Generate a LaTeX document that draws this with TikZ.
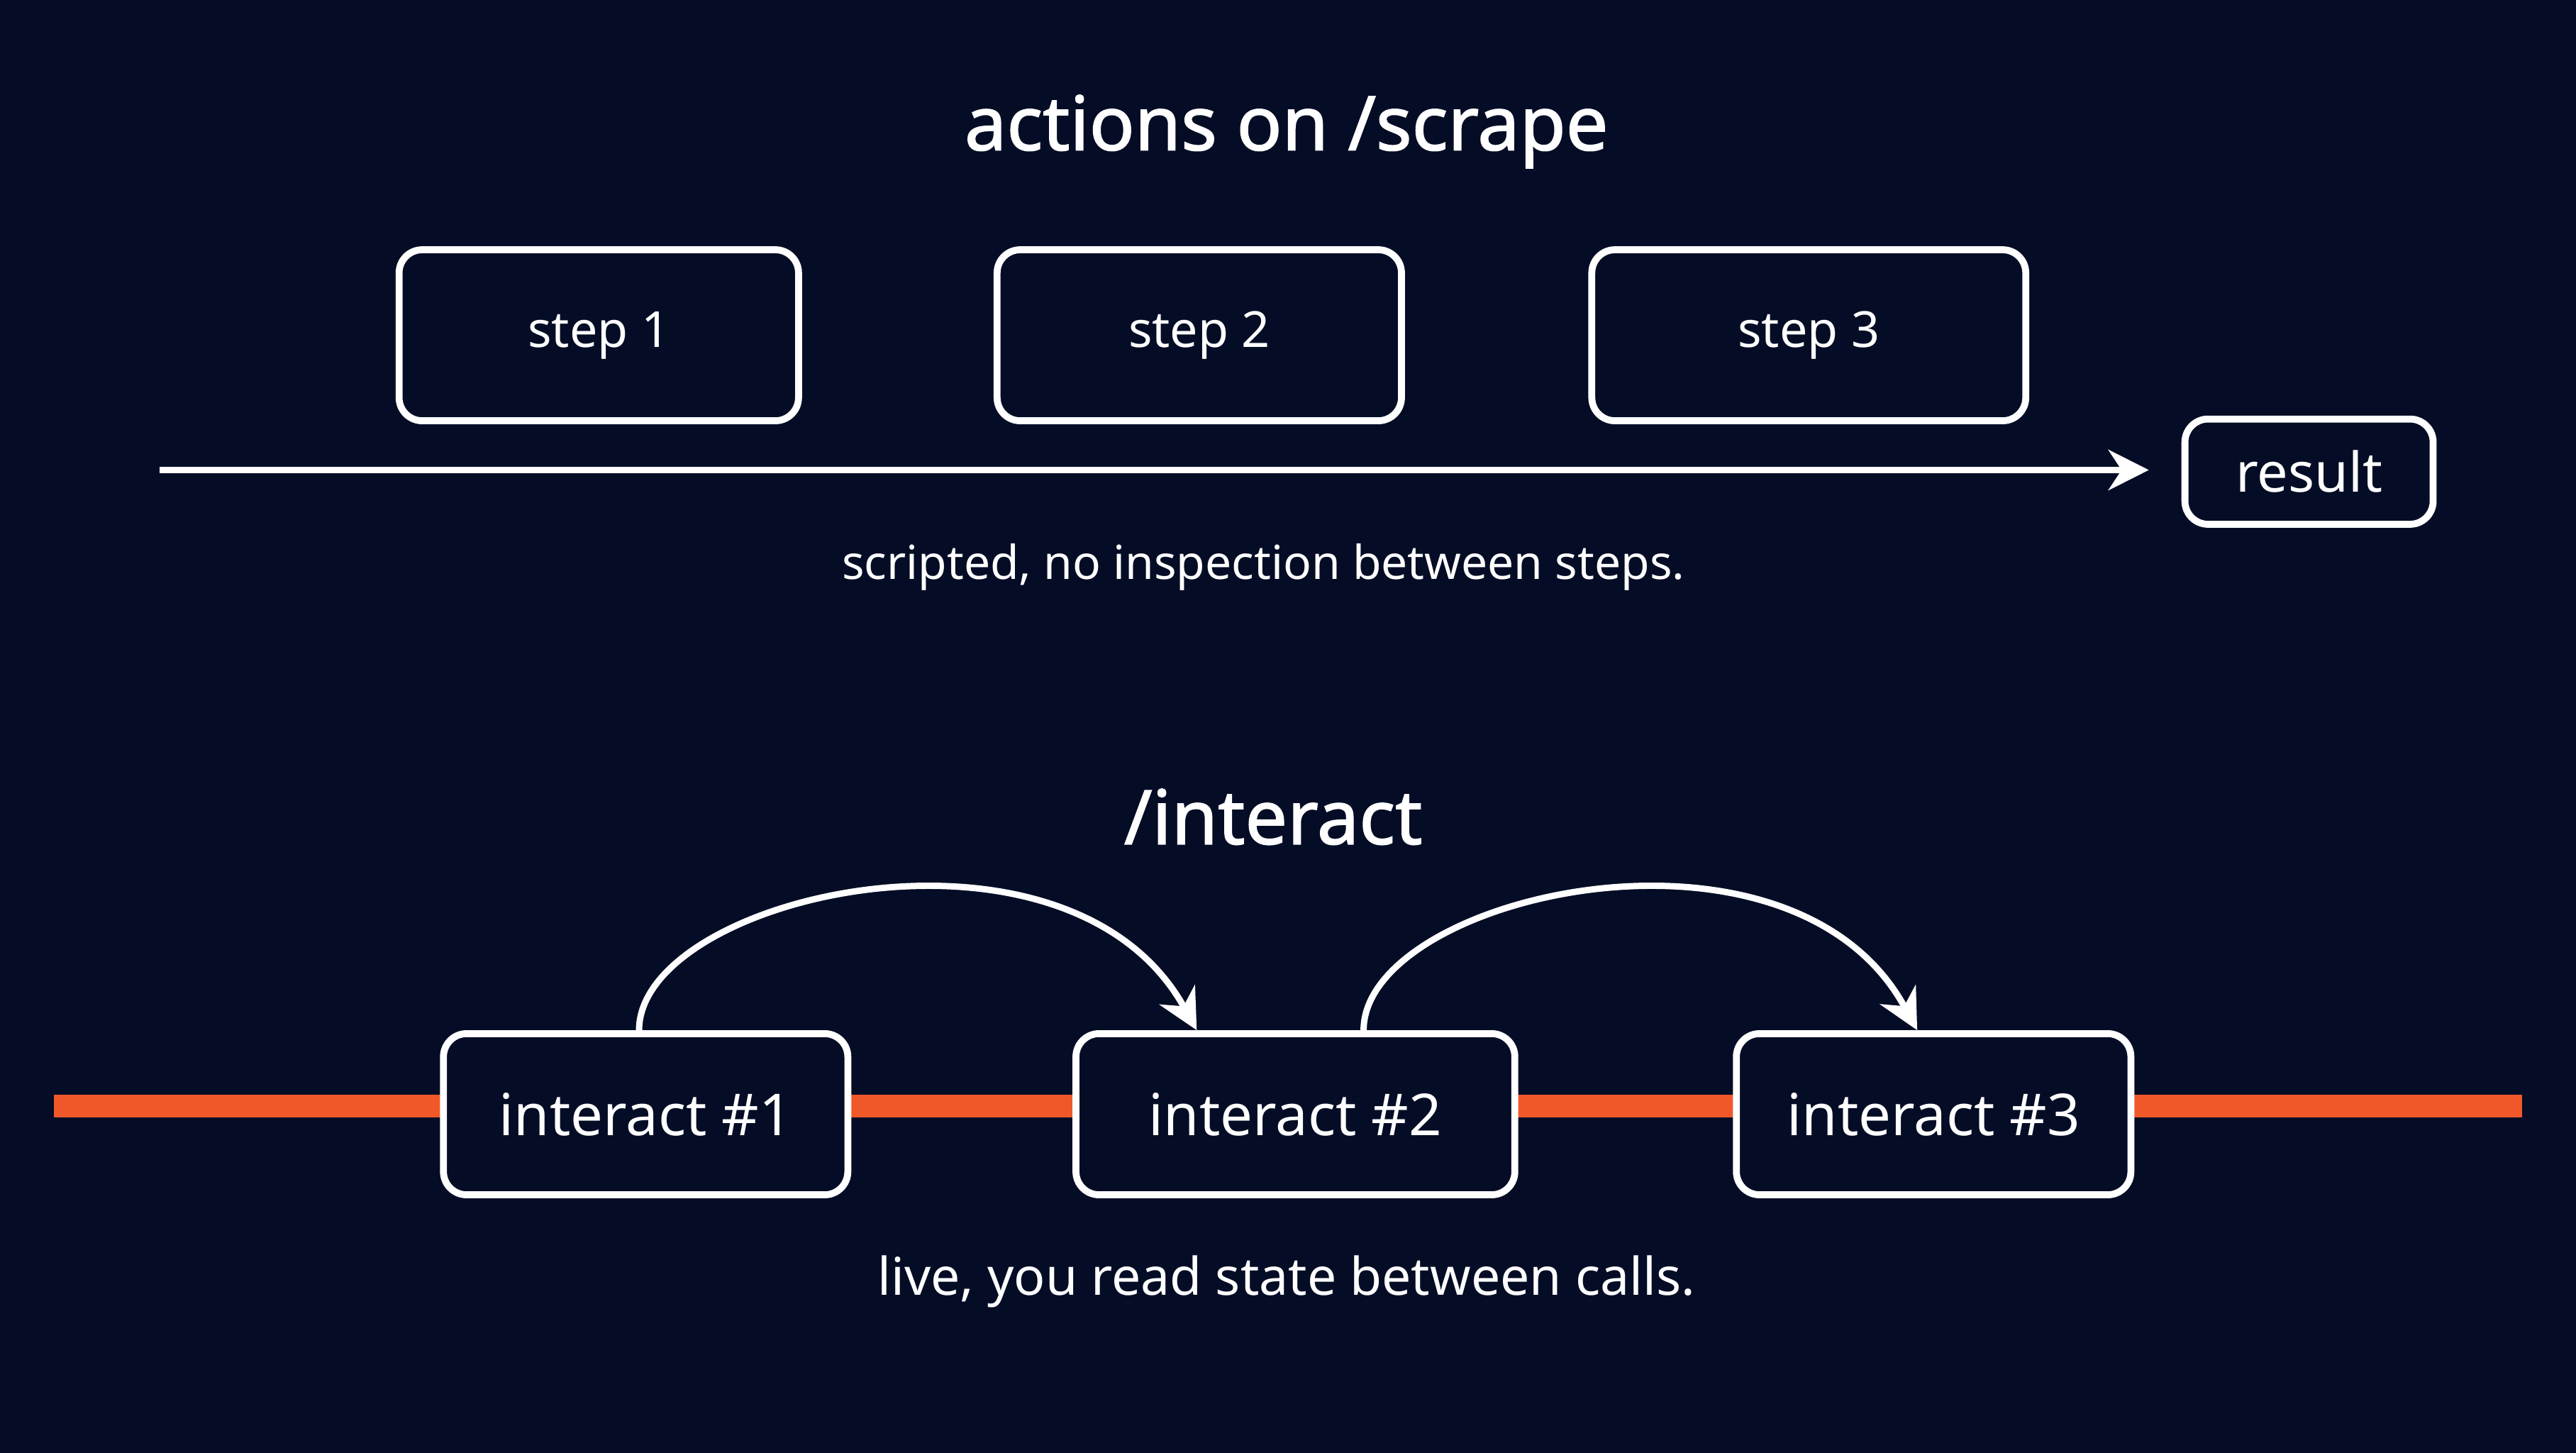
\documentclass[tikz,border=0pt]{standalone}
\usepackage{fontspec}
\setmainfont{Noto Sans}
\newfontfamily\bfam{Noto Sans}[FakeBold=1.5]
\usetikzlibrary{arrows.meta}
\definecolor{bg}{HTML}{050D26}
\definecolor{org}{HTML}{F0582A}
\begin{document}
\begin{tikzpicture}[x=0.01cm,y=-0.01cm,
  box/.style={draw=white,line width=1.2pt,rounded corners=4pt,fill=bg,text=white,font=\fontsize{8.6}{11}\selectfont},
  ttl/.style={text=white,font=\fontsize{13}{16}\bfam},
  captxt/.style={text=white,font=\fontsize{8.1}{10}\selectfont},
  arr/.style={draw=white,line width=1.1pt,-{Stealth[length=7pt,width=7pt]}}]
\fill[bg] (0,0) rectangle (1568,884);
\node[ttl] (t1) at (783,80) {actions on /scrape};
\node[box,minimum width=2.43cm,minimum height=1.04cm] (s1) at (364.5,204) {\raisebox{-0.05cm}{step 1}};
\node[box,minimum width=2.46cm,minimum height=1.04cm] (s2) at (730,204) {\raisebox{-0.05cm}{step 2}};
\node[box,minimum width=2.64cm,minimum height=1.04cm] (s3) at (1101,204) {\raisebox{-0.05cm}{step 3}};
\node[box,minimum width=1.51cm,minimum height=0.64cm,font=\fontsize{9.5}{12}\selectfont] (r) at (1405.5,287) {result};
\coordinate (a0) at (97,286);
\draw[arr] (a0) -- (1308,286) coordinate (a1);
\node[captxt] (c1) at (769,345) {scripted, no inspection between steps.};
\node[ttl] (t2) at (775,497) {/interact};
\coordinate (o0) at (33,673); \coordinate (o1) at (1535,673);
\draw[org,line width=0.14cm] (o0) -- (o1);
\node[box,minimum width=2.46cm,minimum height=0.98cm,font=\fontsize{10}{12}\selectfont] (i1) at (393,678) {interact \#1};
\node[box,minimum width=2.67cm,minimum height=0.98cm,font=\fontsize{10}{12}\selectfont] (i2) at (788.5,678) {interact \#2};
\node[box,minimum width=2.40cm,minimum height=0.98cm,font=\fontsize{10}{12}\selectfont] (i3) at (1177,678) {interact \#3};
\draw[arr] ([xshift=-0.04cm]i1.north) .. controls (389,545) and (650,485) .. ([xshift=-0.6cm]i2.north);
\draw[arr] ([xshift=0.415cm]i2.north) .. controls (830,545) and (1090,485) .. ([xshift=-0.1cm]i3.north);
\node[captxt,font=\fontsize{9}{11}\selectfont] (c2) at (783,780) {live, you read state between calls.};
\end{tikzpicture}
\end{document}
